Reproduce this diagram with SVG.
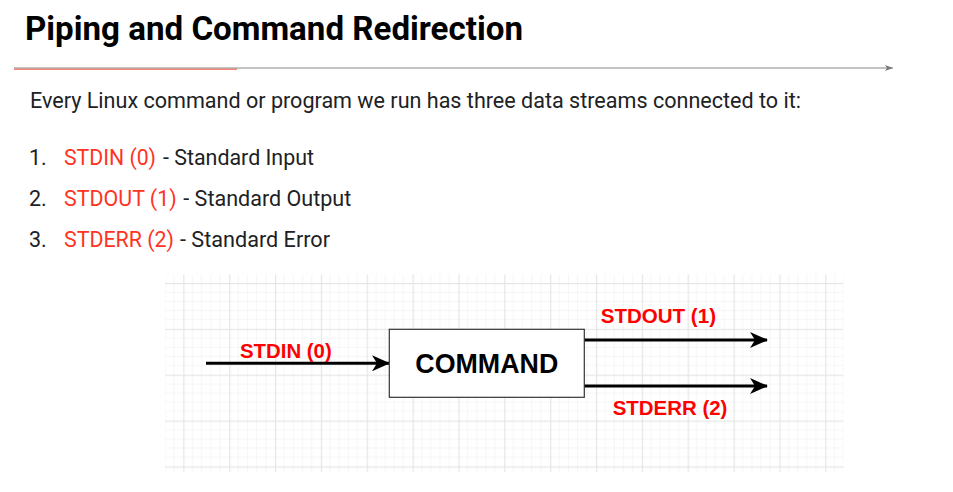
<svg xmlns="http://www.w3.org/2000/svg" width="953" height="492" viewBox="0 0 953 492">
<style>
.body{font-family:Roboto,"Liberation Sans",sans-serif;font-size:21.5px;fill:#202124}
.red{fill:#ff3322}
.lbl{font-family:"Liberation Sans",Arial,sans-serif;font-weight:bold;font-size:20.4px;fill:#ff0000}
.conn{stroke:#000;stroke-width:3;fill:none}
</style>
<defs>
<pattern id="grid" patternUnits="userSpaceOnUse" x="183.3" y="283" width="45.85" height="45.85">
<g stroke="#f5f5f5" stroke-width="1">
<line x1="9.17" y1="0" x2="9.17" y2="45.85"/><line x1="18.34" y1="0" x2="18.34" y2="45.85"/><line x1="27.51" y1="0" x2="27.51" y2="45.85"/><line x1="36.68" y1="0" x2="36.68" y2="45.85"/>
<line x1="0" y1="9.17" x2="45.85" y2="9.17"/><line x1="0" y1="18.34" x2="45.85" y2="18.34"/><line x1="0" y1="27.51" x2="45.85" y2="27.51"/><line x1="0" y1="36.68" x2="45.85" y2="36.68"/>
</g>
<rect x="0" y="0" width="1.2" height="45.85" fill="#e6e6e6"/>
<rect x="0" y="0" width="45.85" height="1.2" fill="#e6e6e6"/>
</pattern>
<marker id="ah" markerUnits="userSpaceOnUse" viewBox="0 0 18 16" refX="17" refY="8" markerWidth="18" markerHeight="16" orient="auto">
<path d="M0,0 L18,8 L0,16 L5,8 Z" fill="#000"/>
</marker>
<marker id="sh" markerUnits="userSpaceOnUse" viewBox="0 0 8 6" refX="8" refY="3" markerWidth="8" markerHeight="6" orient="auto">
<path d="M0,0 L8,3 L0,6 L2,3 Z" fill="#777"/>
</marker>
</defs>
<rect width="953" height="492" fill="#fff"/>
<text x="25" y="40" font-family="Roboto,'Liberation Sans',sans-serif" font-weight="bold" font-size="32.5" fill="#000" textLength="498" lengthAdjust="spacingAndGlyphs">Piping and Command Redirection</text>
<line x1="14" y1="68" x2="893" y2="68" stroke="#888" stroke-width="1.2" marker-end="url(#sh)"/>
<line x1="14" y1="69.2" x2="237" y2="69.2" stroke="#e8503a" stroke-width="1"/>
<text class="body" x="30" y="108" textLength="771" lengthAdjust="spacingAndGlyphs">Every Linux command or program we run has three data streams connected to it:</text>
<text class="body" x="29" y="165">1.</text>
<text class="body red" x="64" y="165" textLength="92" lengthAdjust="spacingAndGlyphs">STDIN (0)</text>
<text class="body" x="163" y="165" textLength="151" lengthAdjust="spacingAndGlyphs">- Standard Input</text>
<text class="body" x="29" y="206">2.</text>
<text class="body red" x="64" y="206" textLength="112.7" lengthAdjust="spacingAndGlyphs">STDOUT (1)</text>
<text class="body" x="183.3" y="206" textLength="168" lengthAdjust="spacingAndGlyphs">- Standard Output</text>
<text class="body" x="29" y="247">3.</text>
<text class="body red" x="64" y="247" textLength="110" lengthAdjust="spacingAndGlyphs">STDERR (2)</text>
<text class="body" x="180" y="247" textLength="150" lengthAdjust="spacingAndGlyphs">- Standard Error</text>
<rect x="165" y="274.5" width="678.5" height="197.5" fill="url(#grid)"/>
<g id="connectors">
<line class="conn" x1="206" y1="363.3" x2="389" y2="363.3" marker-end="url(#ah)"/>
<line class="conn" x1="584" y1="340" x2="767" y2="340" marker-end="url(#ah)"/>
<line class="conn" x1="584" y1="386" x2="767" y2="386" marker-end="url(#ah)"/>
<text class="lbl" x="240" y="358" textLength="91.7" lengthAdjust="spacingAndGlyphs">STDIN (0)</text>
<text class="lbl" x="600.7" y="323.3" textLength="115.3" lengthAdjust="spacingAndGlyphs">STDOUT (1)</text>
<text class="lbl" x="612.7" y="415" textLength="114.7" lengthAdjust="spacingAndGlyphs">STDERR (2)</text>
</g>
<g id="command">
<rect x="389.3" y="329.3" width="195" height="68" fill="#fff" stroke="#333" stroke-width="1.2"/>
<text x="486.8" y="372.7" text-anchor="middle" font-family="'Liberation Sans',Arial,sans-serif" font-weight="bold" font-size="27" fill="#000" textLength="143" lengthAdjust="spacingAndGlyphs">COMMAND</text>
</g>
</svg>
